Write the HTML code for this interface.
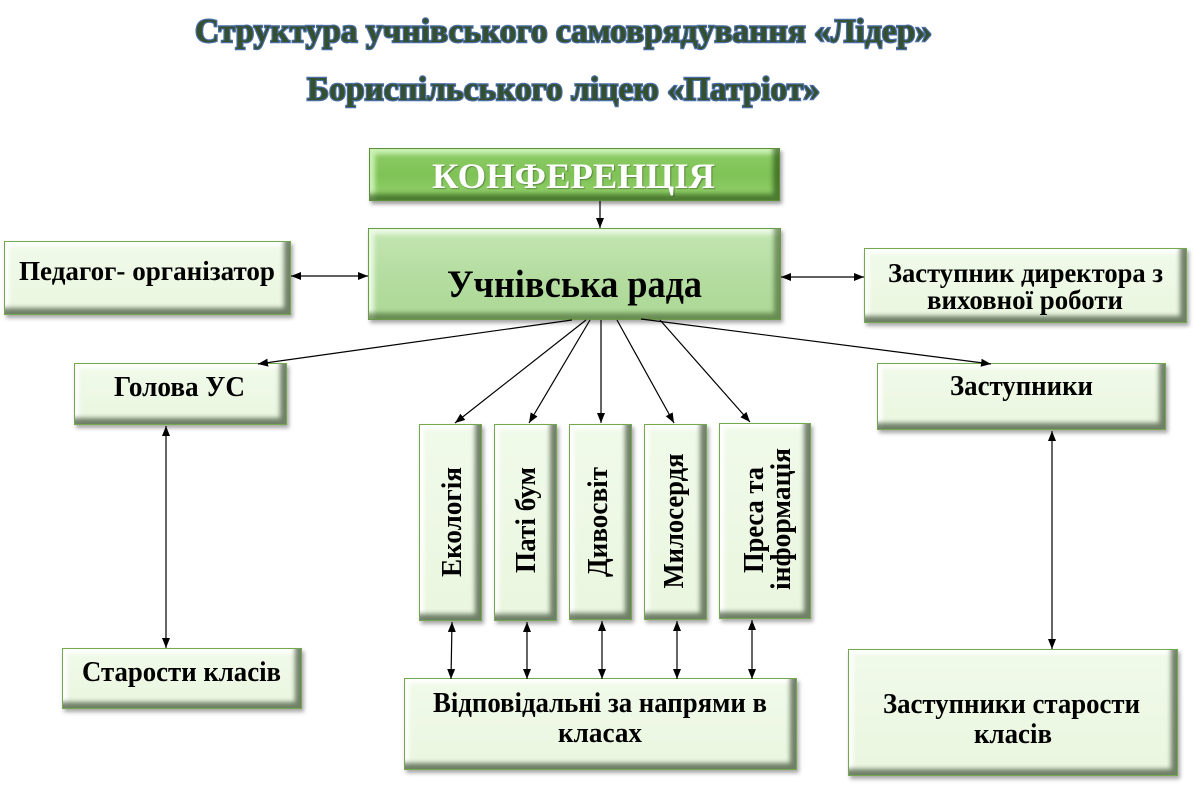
<!DOCTYPE html>
<html><head><meta charset="utf-8">
<style>
html,body{margin:0;padding:0;background:#fff;}
body{width:1194px;height:791px;position:relative;overflow:hidden;}
.b{position:absolute;box-sizing:border-box;border:1.5px solid #74a84c;
background:linear-gradient(#f1faea,#eaf6df);
box-shadow:inset -8px -8px 5px -2px rgba(60,78,52,.7),inset 6px 6px 4px -2px rgba(255,255,255,1),2px 3px 4px rgba(0,0,0,.35);}
.conf{background:linear-gradient(#8fcd68,#7fc256 50%,#93d16c);border-color:#5b8f38;
box-shadow:inset -8px -8px 5px -2px rgba(40,80,20,.65),inset 7px 7px 5px -2px rgba(210,245,190,.9),2px 3px 4px rgba(0,0,0,.4);}
.rada{background:linear-gradient(#c4e6b3,#b5dda1 50%,#acd895);border-color:#6a9c45;
box-shadow:inset -8px -8px 5px -2px rgba(60,90,40,.6),inset 7px 7px 5px -2px rgba(235,250,228,1),2px 3px 4px rgba(0,0,0,.35);}
svg{position:absolute;left:0;top:0;}
text{font-family:"Liberation Serif",serif;font-weight:bold;}
</style></head><body>
<div class="b conf" style="left:369px;top:148px;width:411px;height:53px"></div>
<div class="b rada" style="left:368px;top:228px;width:413px;height:92px"></div>
<div class="b" style="left:4px;top:241px;width:287px;height:74px"></div>
<div class="b" style="left:864px;top:248px;width:323px;height:75px"></div>
<div class="b" style="left:74px;top:363px;width:213px;height:62px"></div>
<div class="b" style="left:877px;top:363px;width:289px;height:67px"></div>
<div class="b" style="left:419px;top:424px;width:63px;height:197px"></div>
<div class="b" style="left:494px;top:424px;width:63px;height:197px"></div>
<div class="b" style="left:569px;top:424px;width:63px;height:196px"></div>
<div class="b" style="left:644px;top:424px;width:63px;height:196px"></div>
<div class="b" style="left:719px;top:423px;width:92px;height:196px"></div>
<div class="b" style="left:404px;top:678px;width:393px;height:92px"></div>
<div class="b" style="left:62px;top:648px;width:240px;height:61px"></div>
<div class="b" style="left:848px;top:649px;width:330px;height:127px"></div>

<svg width="1194" height="791" viewBox="0 0 1194 791">
<defs>
<marker id="a" markerWidth="10" markerHeight="8" refX="10" refY="4" orient="auto-start-reverse" markerUnits="userSpaceOnUse"><path d="M0,0 L10,4 L0,8 z" fill="#000"/></marker>
</defs>
<!-- title -->
<g fill="#34502f" stroke="#4a6ea8" stroke-width="2.4" paint-order="stroke" text-anchor="middle">
<text x="563.5" y="42" font-size="34" textLength="737" lengthAdjust="spacingAndGlyphs">Структура учнівського самоврядування «Лідер»</text>
<text x="563.5" y="100" font-size="34" textLength="513" lengthAdjust="spacingAndGlyphs">Бориспільського ліцею «Патріот»</text>
</g>
<!-- connectors -->
<g stroke="#000" stroke-width="1.2" fill="none">
<line x1="600" y1="201" x2="600" y2="228" marker-end="url(#a)"/>
<line x1="291" y1="276" x2="368" y2="276" marker-start="url(#a)" marker-end="url(#a)"/>
<line x1="781" y1="277" x2="864" y2="277" marker-start="url(#a)" marker-end="url(#a)"/>
<line x1="572" y1="320" x2="258" y2="364" marker-end="url(#a)"/>
<line x1="586" y1="320" x2="455" y2="423" marker-end="url(#a)"/>
<line x1="590" y1="320" x2="529" y2="423" marker-end="url(#a)"/>
<line x1="601" y1="320" x2="601" y2="423" marker-end="url(#a)"/>
<line x1="617" y1="320" x2="674" y2="423" marker-end="url(#a)"/>
<line x1="660" y1="320" x2="750" y2="422" marker-end="url(#a)"/>
<line x1="641" y1="319" x2="991" y2="364" marker-end="url(#a)"/>
<line x1="166" y1="426" x2="166" y2="648" marker-start="url(#a)" marker-end="url(#a)"/>
<line x1="1052" y1="431" x2="1052" y2="649" marker-start="url(#a)" marker-end="url(#a)"/>
<line x1="452" y1="622" x2="451" y2="679" marker-start="url(#a)" marker-end="url(#a)"/>
<line x1="527" y1="622" x2="527" y2="679" marker-start="url(#a)" marker-end="url(#a)"/>
<line x1="602" y1="621" x2="602" y2="679" marker-start="url(#a)" marker-end="url(#a)"/>
<line x1="677" y1="621" x2="677" y2="679" marker-start="url(#a)" marker-end="url(#a)"/>
<line x1="752" y1="620" x2="752" y2="679" marker-start="url(#a)" marker-end="url(#a)"/>
</g>
<!-- box labels -->
<text x="573.5" y="188" font-size="36" fill="#fff" text-anchor="middle" textLength="283" lengthAdjust="spacingAndGlyphs" style="text-shadow:1px 1px 1px rgba(0,0,0,.3)">КОНФЕРЕНЦІЯ</text>
<g fill="#000" text-anchor="middle">
<text x="574.5" y="297" font-size="39" textLength="255" lengthAdjust="spacingAndGlyphs">Учнівська рада</text>
<text x="147" y="280" font-size="27" textLength="256" lengthAdjust="spacingAndGlyphs">Педагог- організатор</text>
<text x="179.5" y="396" font-size="28" textLength="131" lengthAdjust="spacingAndGlyphs">Голова УС</text>
<text x="181.5" y="681" font-size="28" textLength="199" lengthAdjust="spacingAndGlyphs">Старости класів</text>
<text x="1025.5" y="282" font-size="27" textLength="275" lengthAdjust="spacingAndGlyphs">Заступник директора з</text>
<text x="1025" y="309" font-size="27" textLength="196" lengthAdjust="spacingAndGlyphs">виховної роботи</text>
<text x="1021.5" y="395" font-size="28" textLength="143" lengthAdjust="spacingAndGlyphs">Заступники</text>
<text x="1011.5" y="713" font-size="29" textLength="257" lengthAdjust="spacingAndGlyphs">Заступники старости</text>
<text x="1013" y="743" font-size="29" textLength="78" lengthAdjust="spacingAndGlyphs">класів</text>
<text x="600" y="712" font-size="29" textLength="334" lengthAdjust="spacingAndGlyphs">Відповідальні за напрями в</text>
<text x="600" y="742" font-size="29" textLength="84" lengthAdjust="spacingAndGlyphs">класах</text>
<!-- vertical -->
<text x="461" y="522" font-size="29" transform="rotate(-90 461 522)" textLength="110" lengthAdjust="spacingAndGlyphs">Екологія</text>
<text x="535" y="520" font-size="29" transform="rotate(-90 535 520)" textLength="106" lengthAdjust="spacingAndGlyphs">Паті бум</text>
<text x="607" y="522" font-size="29" transform="rotate(-90 607 522)" textLength="110" lengthAdjust="spacingAndGlyphs">Дивосвіт</text>
<text x="683" y="521" font-size="29" transform="rotate(-90 683 521)" textLength="135" lengthAdjust="spacingAndGlyphs">Милосердя</text>
<text x="763" y="520" font-size="29" transform="rotate(-90 763 520)" textLength="106" lengthAdjust="spacingAndGlyphs">Преса та</text>
<text x="790" y="519" font-size="29" transform="rotate(-90 790 519)" textLength="142" lengthAdjust="spacingAndGlyphs">інформація</text>
</g>
</svg>
</body></html>
